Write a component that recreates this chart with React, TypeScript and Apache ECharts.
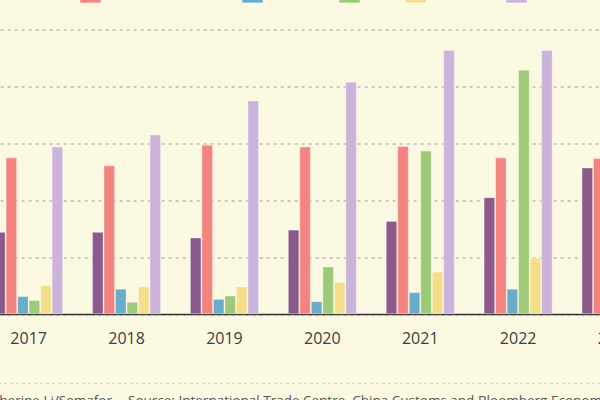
import React, { useEffect, useRef } from "react";
import * as echarts from "echarts";

const years = ["2017", "2018", "2019", "2020", "2021", "2022", "2023"];
const seriesNames = ["Series 1", "Series 2", "Series 3", "Series 4", "Series 5", "Series 6"];
const series1 = [14.5, 14.5, 13.5, 14.9, 16.4, 20.6, 25.8];
const series2 = [27.6, 26.2, 29.8, 29.5, 29.6, 27.6, 27.5];
const series3 = [3.2, 4.5, 2.7, 2.3, 3.9, 4.5, 3.5];
const series4 = [2.5, 2.2, 3.3, 8.4, 28.8, 43.0, 30.0];
const series5 = [5.1, 4.9, 4.9, 5.7, 7.5, 9.9, 8.0];
const series6 = [29.5, 31.6, 37.6, 40.9, 46.5, 46.5, 42.0];
const allSeries = [series1, series2, series3, series4, series5, series6];
const colors = ["#8c5a8a", "#f4847f", "#6aadcb", "#9dca78", "#f4de8a", "#cbb3da"];
const credit = "Catherine Li/Semafor";
const source = "Source: International Trade Centre, China Customs and Bloomberg Economics";

// The visible 600x400 window is a crop of a larger chart.
const OFF_X = 80;
const OFF_Y = 50;
const W = 780;
const H = 470;

export default function App() {
  const ref = useRef<HTMLDivElement>(null);
  useEffect(() => {
    if (!ref.current) return;
    const chart = echarts.init(ref.current, undefined, { renderer: "svg" });
    const legendX = [-60, 79, 241, 338, 404, 505];
    chart.setOption({
      animation: false,
      backgroundColor: "#fcf9e3",
      legend: seriesNames.map((n, i) => ({
        data: [n],
        left: legendX[i] + OFF_X,
        top: OFF_Y - 18,
        icon: "rect",
        itemWidth: 21,
        itemHeight: 20,
        padding: 0,
        selectedMode: false,
        textStyle: { fontFamily: "Open Sans", fontSize: 12, color: "#444" },
      })),
      grid: { left: OFF_X - 20.3, top: OFF_Y + 30, width: 685.3, height: 284.3 },
      xAxis: {
        type: "category",
        data: years,
        axisLine: { lineStyle: { color: "#333", width: 1.3 } },
        axisTick: { alignWithLabel: true, length: 5, lineStyle: { color: "#333" } },
        axisLabel: { margin: 16, fontFamily: "Open Sans", fontSize: 16, color: "#3d3d3d" },
      },
      yAxis: {
        type: "value",
        min: 0,
        max: 50,
        interval: 10,
        axisLabel: { fontFamily: "Open Sans", fontSize: 14, color: "#444" },
        splitLine: { lineStyle: { color: "#bdbaae", width: 1.5, type: [3, 4] } },
      },
      series: allSeries.map((d, i) => ({
        name: seriesNames[i],
        type: "bar",
        data: d,
        barGap: "0%",
        barCategoryGap: "29.5%",
        itemStyle: { color: colors[i], borderColor: "rgba(255,255,255,0.3)", borderWidth: 1 },
      })),
      graphic: [
        {
          type: "line",
          shape: { x1: 0, y1: OFF_Y + 383.3, x2: W, y2: OFF_Y + 383.3 },
          style: { stroke: "#cfcdc2", lineWidth: 1, lineDash: [3, 3] },
        },
        {
          type: "text",
          x: OFF_X + 112,
          y: OFF_Y + 393,
          style: { text: credit, fill: "#555", fontSize: 13.5, fontFamily: "Open Sans", textAlign: "right", textVerticalAlign: "top" },
        },
        {
          type: "text",
          x: OFF_X + 128,
          y: OFF_Y + 393,
          style: { text: source, fill: "#555", fontSize: 13.5, fontFamily: "Open Sans", textAlign: "left", textVerticalAlign: "top" },
        },
      ],
    });
    return () => chart.dispose();
  }, []);
  return (
    <div style={{ position: "fixed", left: 0, top: 0, width: 600, height: 400, overflow: "hidden", background: "#fcf9e3" }}>
      <div ref={ref} style={{ position: "absolute", left: -OFF_X, top: -OFF_Y, width: W, height: H }} />
    </div>
  );
}
